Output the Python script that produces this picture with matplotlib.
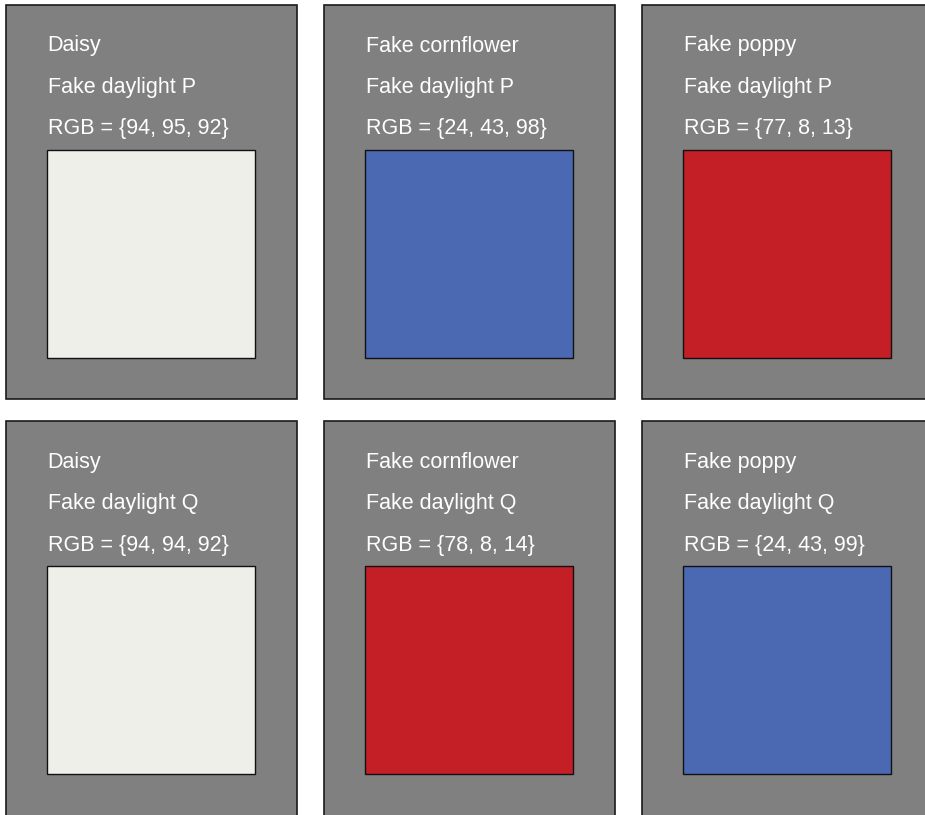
import matplotlib
matplotlib.use('Agg')
from matplotlib import pyplot as plt
from matplotlib.patches import Rectangle

# panel content, row by row
flowers = ['Daisy', 'Fake cornflower', 'Fake poppy',
           'Daisy', 'Fake cornflower', 'Fake poppy']
lights = ['Fake daylight P', 'Fake daylight P', 'Fake daylight P',
          'Fake daylight Q', 'Fake daylight Q', 'Fake daylight Q']
rgb_values = [[94, 95, 92], [24, 43, 98], [77, 8, 13],
              [94, 94, 92], [78, 8, 14], [24, 43, 99]]
swatch_colors = ['#efefea', '#4a69b2', '#c41f27',
                 '#efefea', '#c41f27', '#4a69b2']

plt.rcParams['font.family'] = ['Liberation Sans', 'DejaVu Sans']

fig = plt.figure(figsize=(9.25, 8.15), dpi=100)
ax = fig.add_axes([0, 0, 1, 1])
ax.set_xlim(0, 925)
ax.set_ylim(815, 0)
ax.axis('off')

# layout in pixels
x0, y0 = 5.5, 4.5
pw, ph = 291, 394
dx, dy = 318, 416.5
sq_off_x, sq_off_y, sq = 41.5, 145, 208

for i in range(6):
    row, col = i // 3, i % 3
    px = x0 + col * dx
    py = y0 + row * dy
    # bottom row runs off the lower edge of the picture
    h = ph if row == 0 else ph + 20
    ax.add_patch(Rectangle((px, py), pw, h, facecolor='#808080',
                           edgecolor='#1a1a1a', linewidth=1.2))
    ax.add_patch(Rectangle((px + sq_off_x, py + sq_off_y), sq, sq,
                           facecolor=swatch_colors[i], edgecolor='#111111',
                           linewidth=1.0))
    tx = px + 42
    ax.text(tx, py + 41.5, flowers[i], color='white', fontsize=15.5, va='center')
    ax.text(tx, py + 82.5, lights[i], color='white', fontsize=15.5, va='center')
    r, g, b = rgb_values[i]
    ax.text(tx, py + 124, 'RGB = {%d, %d, %d}' % (r, g, b), color='white',
            fontsize=15.5, va='center')

plt.savefig('out.png', dpi=100)
